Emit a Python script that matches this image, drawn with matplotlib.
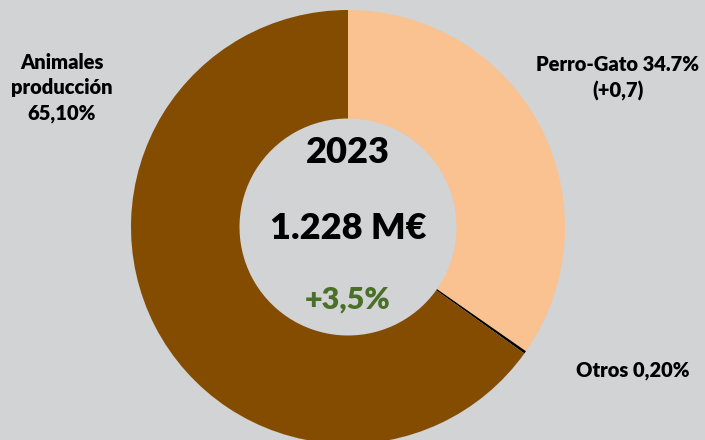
import matplotlib
matplotlib.use("Agg")
import matplotlib.pyplot as plt

categories = ["Perro-Gato", "Otros", "Animales producción"]
shares = [34.7, 0.2, 65.1]
colors = ["#F9C290", "#000000", "#844C00"]

label_texts = ["Perro-Gato 34.7%\n(+0,7)", "Otros 0,20%", "Animales\nproducción\n65,10%"]
center_year = "2023"
center_total = "1.228 M€"
center_growth = "+3,5%"

bg = "#D1D3D4"
plt.rcParams['font.family'] = ['Lato', 'DejaVu Sans']

fig = plt.figure(figsize=(7.05, 4.40), dpi=100)
fig.patch.set_facecolor(bg)
ax = fig.add_axes([0, 0, 1, 1])
ax.set_facecolor(bg)

cx, cy, r = 348, 213, 217
ax.pie(shares, colors=colors, startangle=90, counterclock=False,
       center=(cx, cy), radius=r, frame=True,
       wedgeprops=dict(width=r * 0.5, linewidth=0))
ax.set_xlim(0, 705)
ax.set_ylim(0, 440)
ax.set_aspect('equal')
ax.axis('off')

# outside labels
ax.text(618, 362, label_texts[0], ha='center', va='center', fontsize=14.5,
        fontweight='heavy', linespacing=1.4)
ax.text(633, 70, label_texts[1], ha='center', va='center', fontsize=14.5,
        fontweight='heavy')
ax.text(62, 352, label_texts[2], ha='center', va='center', fontsize=14.5,
        fontweight='heavy', linespacing=1.4)

# center texts
ax.text(cx, 288, center_year, ha='center', va='center', fontsize=26,
        fontweight='heavy')
ax.text(cx, 212, center_total, ha='center', va='center', fontsize=26,
        fontweight='heavy')
ax.text(cx, 140, center_growth, ha='center', va='center', fontsize=22,
        fontweight='heavy', color='#4A7028')

fig.savefig("out.png", dpi=100, facecolor=bg)
